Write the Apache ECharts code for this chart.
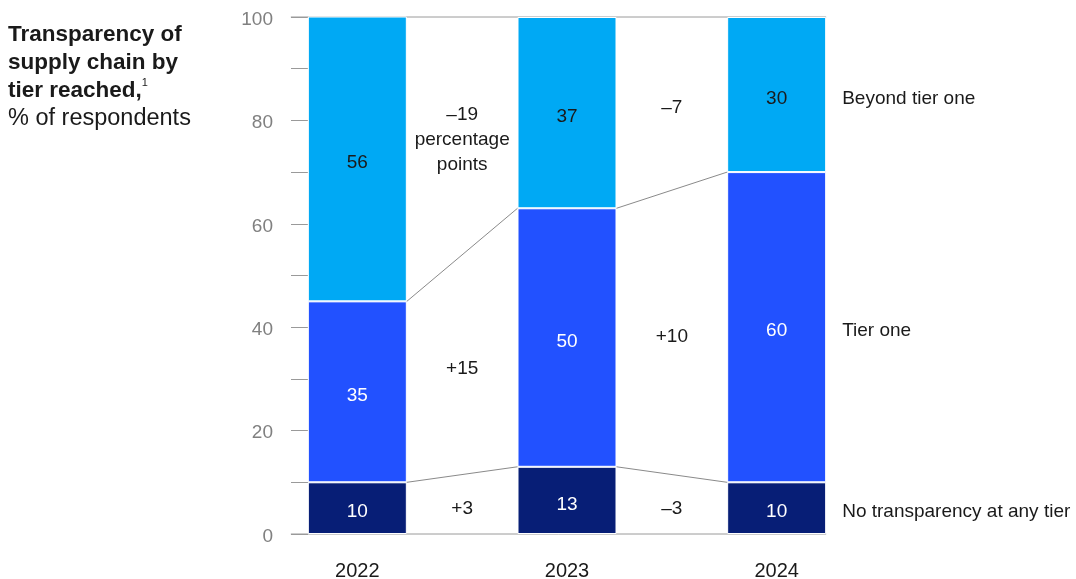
<!DOCTYPE html>
<html>
<head>
<meta charset="utf-8">
<script src="https://cdn.jsdelivr.net/npm/echarts@6/dist/echarts.min.js"></script>
<style>
  html, body { margin: 0; padding: 0; background: #fff; }
  #chart { width: 1076px; height: 579px; }
</style>
</head>
<body>
<div id="chart"></div>
<script>
// Supply-chain transparency by tier reached, % of respondents
const years = ['2022', '2023', '2024'];
const noTransparency = [10, 13, 10];
const tierOne = [35, 50, 60];
const beyondTierOne = [56, 37, 30];
const seriesNames = ['No transparency at any tier', 'Tier one', 'Beyond tier one'];

// Year-over-year changes shown between the bars (one entry per gap)
const changeNoTransparency = ['+3', '–3'];
const changeTierOne = ['+15', '+10'];
const changeBeyondTierOne = ['–19\npercentage\npoints', '–7'];

const Y_MIN = 0;
const Y_MAX = 100;
const Y_TICK_STEP = 10;
const Y_LABEL_STEP = 20;

// Styling
const FONT = '"Liberation Sans", Arial, sans-serif';
const COLORS = ['#071E76', '#2251FF', '#00A9F4'];
const LABEL_COLORS = ['#ffffff', '#ffffff', '#1a1a1a'];
const TEXT = '#1a1a1a';
const RULE = '#9a9a9a';
const CONNECTOR = '#8a8a8a';
const BAR_WIDTH = 99;
const TICK_LEN = 17;
const TEXT_DROP = 4; // small downward nudge so text sits optically centred

const layers = [noTransparency, tierOne, beyondTierOne];
const clampY = v => Math.min(Y_MAX, Math.max(Y_MIN, v));

// Cumulative boundaries [bottom, top] of each layer for a given year
function bounds(yearIdx) {
  const out = [];
  let acc = 0;
  for (const layer of layers) {
    const lo = acc;
    acc += layer[yearIdx];
    out.push([clampY(lo), clampY(acc)]);
  }
  return out;
}

const chart = echarts.init(document.getElementById('chart'), null, { renderer: 'canvas' });

const barSeries = layers.map((layer, k) => ({
  name: seriesNames[k],
  type: 'bar',
  stack: 'total',
  barWidth: BAR_WIDTH,
  z: 3,
  data: layer,
  itemStyle: { color: COLORS[k], borderColor: '#ffffff', borderWidth: 1 },
  label: {
    show: true,
    position: 'inside',
    offset: [0, TEXT_DROP],
    color: LABEL_COLORS[k],
    fontSize: 19,
    fontFamily: FONT
  },
  emphasis: { disabled: true }
}));

// Baseline and top rule, spanning from the axis ticks to the last bar
const frameSeries = {
  type: 'custom',
  z: 1,
  silent: true,
  data: [[0, Y_MIN], [0, Y_MAX]],
  renderItem(params, api) {
    const v = api.value(1);
    const left = api.coord([0, v]);
    const right = api.coord([years.length - 1, v]);
    return {
      type: 'line',
      shape: {
        x1: left[0] - BAR_WIDTH / 2 - TICK_LEN, y1: left[1],
        x2: right[0] + BAR_WIDTH / 2, y2: right[1]
      },
      style: { stroke: RULE, lineWidth: 1 }
    };
  }
};

// Connectors between layer boundaries and change labels in each gap
const gapChanges = [changeNoTransparency, changeTierOne, changeBeyondTierOne];
const gapSeries = {
  type: 'custom',
  z: 4,
  silent: true,
  data: years.slice(0, -1).map((_, i) => [i, 0]),
  renderItem(params, api) {
    const i = api.value(0);
    const a = bounds(i);
    const b = bounds(i + 1);
    const xa = api.coord([i, 0])[0] + BAR_WIDTH / 2;
    const xb = api.coord([i + 1, 0])[0] - BAR_WIDTH / 2;
    const children = [];
    // boundary lines between neighbouring layers
    for (let k = 0; k < layers.length - 1; k++) {
      const ya = api.coord([i, a[k][1]])[1];
      const yb = api.coord([i + 1, b[k][1]])[1];
      children.push({
        type: 'line',
        shape: { x1: xa, y1: ya, x2: xb, y2: yb },
        style: { stroke: CONNECTOR, lineWidth: 1 }
      });
    }
    // change labels centred in each band
    for (let k = 0; k < layers.length; k++) {
      const mid = (a[k][0] + a[k][1] + b[k][0] + b[k][1]) / 4;
      const y = api.coord([i, mid])[1];
      children.push({
        type: 'text',
        style: {
          text: gapChanges[k][i],
          x: (xa + xb) / 2,
          y: y + TEXT_DROP,
          align: 'center',
          verticalAlign: 'middle',
          fontSize: 19,
          fontFamily: FONT,
          lineHeight: 25,
          fill: TEXT
        }
      });
    }
    return { type: 'group', children };
  }
};

// Series names to the right of the last bar
const nameSeries = {
  type: 'custom',
  z: 4,
  silent: true,
  data: [[years.length - 1, 0]],
  renderItem(params, api) {
    const last = api.value(0);
    const bs = bounds(last);
    const x = api.coord([last, 0])[0] + BAR_WIDTH / 2 + 16;
    return {
      type: 'group',
      children: bs.map((bd, k) => ({
        type: 'text',
        style: {
          text: seriesNames[k],
          x: x,
          y: api.coord([last, (bd[0] + bd[1]) / 2])[1] + TEXT_DROP,
          align: 'left',
          verticalAlign: 'middle',
          fontSize: 19,
          fontFamily: FONT,
          fill: TEXT
        }
      }))
    };
  }
};

chart.setOption({
  animation: false,
  backgroundColor: '#ffffff',
  textStyle: { fontFamily: FONT },
  title: {
    left: 8,
    top: 21,
    padding: 0,
    text: '{b|Transparency of}\n{b|supply chain by}\n{b|tier reached,}{s|1}\n{r|% of respondents}',
    textStyle: {
      fontWeight: 'normal',
      rich: {
        b: { fontSize: 22.5, fontWeight: 'bold', lineHeight: 28, color: TEXT, fontFamily: FONT },
        s: { fontSize: 11, fontWeight: 'normal', lineHeight: 14, verticalAlign: 'top', color: TEXT, fontFamily: FONT },
        r: { fontSize: 23.5, fontWeight: 'normal', lineHeight: 28, color: TEXT, fontFamily: FONT }
      }
    }
  },
  grid: { left: 252.5, right: 194.5, top: 17, bottom: 45, containLabel: false, outerBoundsMode: 'none' },
  xAxis: {
    type: 'category',
    data: years,
    axisLine: { show: false },
    axisTick: { show: false },
    axisLabel: { color: TEXT, fontSize: 20, margin: 27, fontFamily: FONT }
  },
  yAxis: {
    type: 'value',
    min: Y_MIN,
    max: Y_MAX,
    interval: Y_TICK_STEP,
    offset: -38.5,
    axisLine: { show: false },
    axisTick: { show: true, inside: true, length: TICK_LEN, lineStyle: { color: RULE, width: 1 } },
    splitLine: { show: false },
    axisLabel: {
      color: '#808080',
      fontSize: 19,
      margin: 18,
      fontFamily: FONT,
      formatter: v => (v % Y_LABEL_STEP === 0 ? '{t|' + v + '}' : ''),
      rich: { t: { fontSize: 19, color: '#808080', fontFamily: FONT, padding: [5, 0, 0, 0] } }
    }
  },
  series: [frameSeries, ...barSeries, gapSeries, nameSeries]
});
</script>
</body>
</html>
